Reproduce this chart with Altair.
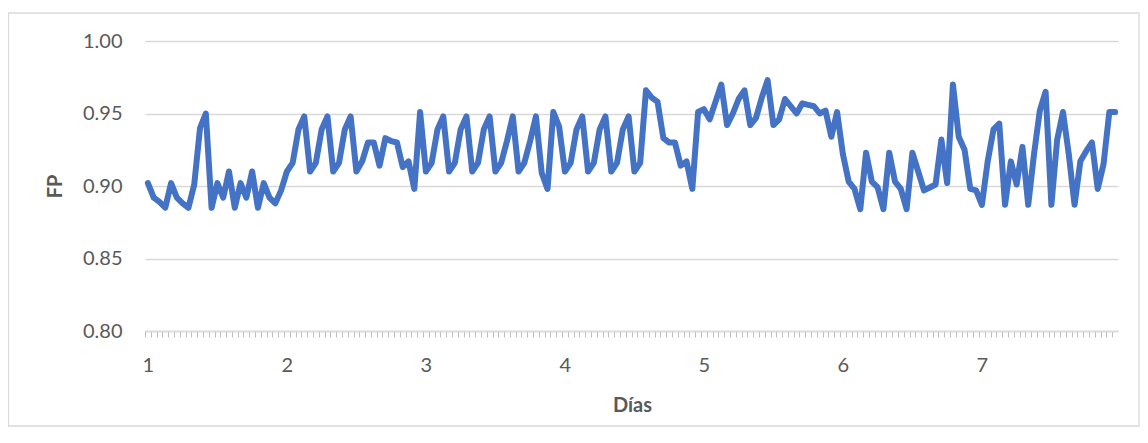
import altair as alt
import pandas as pd

# Hourly FP values, one list per day (24 values each)
dia1 = [0.902, 0.892, 0.889, 0.885, 0.902, 0.892, 0.888, 0.885, 0.901, 0.940, 0.950, 0.885,
        0.902, 0.892, 0.910, 0.885, 0.902, 0.892, 0.910, 0.885, 0.902, 0.892, 0.888, 0.897]
dia2 = [0.910, 0.916, 0.939, 0.948, 0.910, 0.916, 0.939, 0.948, 0.910, 0.916, 0.939, 0.948,
        0.910, 0.917, 0.930, 0.930, 0.914, 0.933, 0.931, 0.930, 0.913, 0.917, 0.898, 0.951]
dia3 = [0.910, 0.916, 0.939, 0.948, 0.910, 0.916, 0.939, 0.948, 0.910, 0.916, 0.939, 0.948,
        0.910, 0.916, 0.931, 0.948, 0.910, 0.916, 0.931, 0.948, 0.909, 0.898, 0.951, 0.941]
dia4 = [0.910, 0.916, 0.939, 0.948, 0.910, 0.916, 0.939, 0.948, 0.910, 0.916, 0.939, 0.948,
        0.910, 0.916, 0.966, 0.961, 0.958, 0.933, 0.930, 0.930, 0.914, 0.917, 0.898, 0.951]
dia5 = [0.953, 0.946, 0.958, 0.970, 0.942, 0.950, 0.960, 0.966, 0.942, 0.947, 0.961, 0.973,
        0.942, 0.946, 0.960, 0.955, 0.950, 0.957, 0.956, 0.955, 0.950, 0.952, 0.934, 0.951]
dia6 = [0.922, 0.903, 0.898, 0.884, 0.923, 0.903, 0.899, 0.884, 0.923, 0.903, 0.898, 0.884,
        0.923, 0.910, 0.897, 0.899, 0.901, 0.932, 0.902, 0.970, 0.934, 0.925, 0.898, 0.897]
dia7 = [0.887, 0.917, 0.939, 0.943, 0.887, 0.917, 0.901, 0.927, 0.887, 0.922, 0.952, 0.965,
        0.887, 0.932, 0.951, 0.922, 0.887, 0.917, 0.924, 0.930, 0.898, 0.915, 0.951, 0.951]

x_labels = [1, 2, 3, 4, 5, 6, 7]
y_ticks = [0.80, 0.85, 0.90, 0.95, 1.00]

fp = dia1 + dia2 + dia3 + dia4 + dia5 + dia6 + dia7
dias = [1 + i / 24 for i in range(len(fp))]
df = pd.DataFrame({"dia": dias, "fp": fp})

# minor ticks at category boundaries (every hour)
minor_ticks = [round(1 - 1 / 48 + k / 24, 6) for k in range(len(fp) + 1)]
tick_values = minor_ticks + x_labels

FONT = "Lato"
GRAY = "#595959"
LIGHT = "#d9d9d9"
is_int = "abs(datum.value - round(datum.value)) < 0.001"

W, H = 973, 290

line = alt.Chart(df).mark_line(
    color="#4472C4", strokeWidth=6, strokeJoin="round", strokeCap="round"
).encode(
    x=alt.X(
        "dia:Q",
        scale=alt.Scale(domain=[1 - 1 / 48, 8 - 1 / 48], nice=False, zero=False),
        axis=alt.Axis(
            values=tick_values,
            title="Días",
            grid=False,
            domainColor=LIGHT,
            domainWidth=1.3,
            tickColor="#bfbfbf",
            tickSize=6,
            tickWidth=1,
            tickOpacity={"condition": {"test": is_int, "value": 0}, "value": 1},
            labelExpr=f"{is_int} ? format(datum.value, 'd') : ''",
            labelOverlap=False,
            labelFlush=False,
            labelPadding=18,
            titleX=487,
            titleY=74,
            titleBaseline="middle",
            titleAlign="center",
        ),
    ),
    y=alt.Y(
        "fp:Q",
        scale=alt.Scale(domain=[0.8, 1.0], nice=False, zero=False),
        axis=alt.Axis(
            values=y_ticks,
            format=".2f",
            title="FP",
            domain=False,
            ticks=False,
            gridColor=LIGHT,
            gridWidth=1.3,
            labelPadding=23,
            titleX=-90,
            titleY=145,
            titleAngle=270,
            titleBaseline="middle",
            titleAlign="center",
        ),
    ),
)

frame = alt.Chart(pd.DataFrame({"a": [0]})).mark_rect(
    fillOpacity=0, stroke=LIGHT, strokeWidth=1.3
).encode(
    x=alt.value(-136.5), x2=alt.value(994), y=alt.value(-28), y2=alt.value(385)
)

chart = alt.layer(frame, line).properties(
    width=W,
    height=H,
    autosize=alt.AutoSizeParams(type="none"),
    padding={"left": 137, "top": 33, "right": 22, "bottom": 96},
).configure_view(stroke=None).configure_axis(
    labelFont=FONT,
    titleFont=FONT,
    labelFontSize=20,
    titleFontSize=20,
    labelColor=GRAY,
    titleColor=GRAY,
    titleFontWeight="bold",
)

chart.save("out.html", embed_options={"renderer": "svg", "actions": False})
